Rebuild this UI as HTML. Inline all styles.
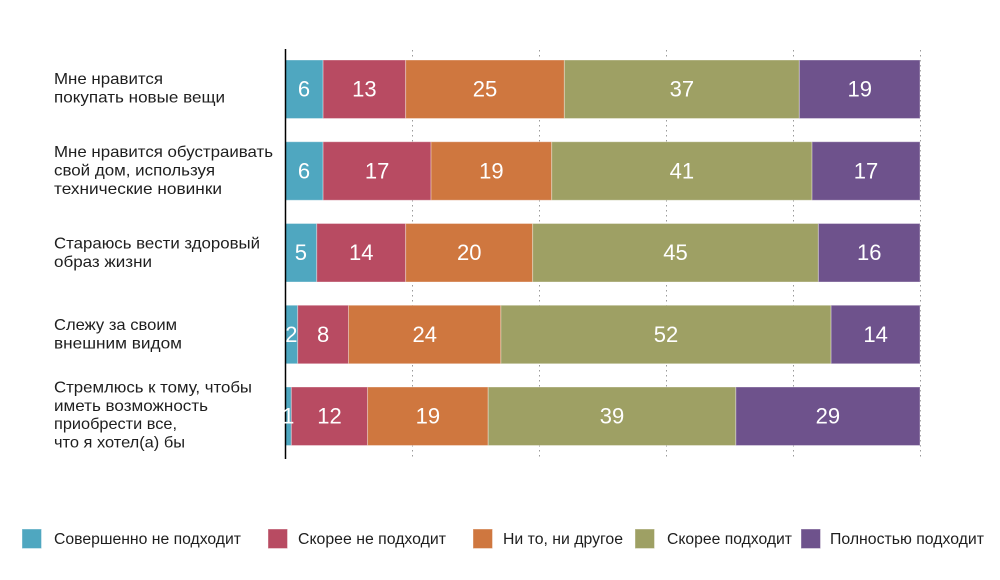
<!DOCTYPE html>
<html>
<head>
<meta charset="utf-8">
<style>
html,body{margin:0;padding:0;background:#fff;}
svg{display:block;}
text{font-family:"Liberation Sans","DejaVu Sans",sans-serif;}
.lbl{font-size:16px;fill:#1e1e1e;}
.leg{font-size:15.5px;fill:#1e1e1e;}
.val{font-size:22px;fill:#fff;text-anchor:middle;}
</style>
</head>
<body>
<svg width="1000" height="580" viewBox="0 0 1000 580" xmlns="http://www.w3.org/2000/svg">
  <rect width="1000" height="580" fill="#fff"/>
  <!-- gridlines -->
  <g stroke="#9a9a9a" stroke-width="1" stroke-dasharray="1.5,3.5">
    <line x1="412.5" y1="50" x2="412.5" y2="460"/>
    <line x1="539.5" y1="50" x2="539.5" y2="460"/>
    <line x1="666.5" y1="50" x2="666.5" y2="460"/>
    <line x1="793.5" y1="50" x2="793.5" y2="460"/>
    <line x1="920.5" y1="50" x2="920.5" y2="460"/>
  </g>

  <!-- Row 1 -->
  <g stroke="#ffffff" stroke-opacity="0.35" stroke-width="1">
    <rect x="285" y="60" width="38.1" height="58.5" fill="#4fa7c0"/>
    <rect x="323.1" y="60" width="82.55" height="58.5" fill="#b84b62"/>
    <rect x="405.65" y="60" width="158.75" height="58.5" fill="#cf773f"/>
    <rect x="564.4" y="60" width="234.95" height="58.5" fill="#9ea064"/>
    <rect x="799.35" y="60" width="120.65" height="58.5" fill="#6e528c"/>
  </g>
  <!-- Row 2 -->
  <g stroke="#ffffff" stroke-opacity="0.35" stroke-width="1">
    <rect x="285" y="141.75" width="38.1" height="58.5" fill="#4fa7c0"/>
    <rect x="323.1" y="141.75" width="107.95" height="58.5" fill="#b84b62"/>
    <rect x="431.05" y="141.75" width="120.65" height="58.5" fill="#cf773f"/>
    <rect x="551.7" y="141.75" width="260.35" height="58.5" fill="#9ea064"/>
    <rect x="812.05" y="141.75" width="107.95" height="58.5" fill="#6e528c"/>
  </g>
  <!-- Row 3 -->
  <g stroke="#ffffff" stroke-opacity="0.35" stroke-width="1">
    <rect x="285" y="223.5" width="31.75" height="58.5" fill="#4fa7c0"/>
    <rect x="316.75" y="223.5" width="88.9" height="58.5" fill="#b84b62"/>
    <rect x="405.65" y="223.5" width="127" height="58.5" fill="#cf773f"/>
    <rect x="532.65" y="223.5" width="285.75" height="58.5" fill="#9ea064"/>
    <rect x="818.4" y="223.5" width="101.6" height="58.5" fill="#6e528c"/>
  </g>
  <!-- Row 4 -->
  <g stroke="#ffffff" stroke-opacity="0.35" stroke-width="1">
    <rect x="285" y="305.25" width="12.7" height="58.5" fill="#4fa7c0"/>
    <rect x="297.7" y="305.25" width="50.8" height="58.5" fill="#b84b62"/>
    <rect x="348.5" y="305.25" width="152.4" height="58.5" fill="#cf773f"/>
    <rect x="500.9" y="305.25" width="330.2" height="58.5" fill="#9ea064"/>
    <rect x="831.1" y="305.25" width="88.9" height="58.5" fill="#6e528c"/>
  </g>
  <!-- Row 5 -->
  <g stroke="#ffffff" stroke-opacity="0.35" stroke-width="1">
    <rect x="285" y="387" width="6.35" height="58.5" fill="#4fa7c0"/>
    <rect x="291.35" y="387" width="76.2" height="58.5" fill="#b84b62"/>
    <rect x="367.55" y="387" width="120.65" height="58.5" fill="#cf773f"/>
    <rect x="488.2" y="387" width="247.65" height="58.5" fill="#9ea064"/>
    <rect x="735.85" y="387" width="184.15" height="58.5" fill="#6e528c"/>
  </g>

  <!-- axis -->
  <line x1="285.5" y1="49" x2="285.5" y2="459" stroke="#000" stroke-width="1.5"/>

  <!-- values -->
  <g class="val">
    <text x="304.05" y="96.7" class="val">6</text>
    <text x="364.4" y="96.7" class="val">13</text>
    <text x="485.0" y="96.7" class="val">25</text>
    <text x="681.9" y="96.7" class="val">37</text>
    <text x="859.7" y="96.7" class="val">19</text>

    <text x="304.05" y="178.5" class="val">6</text>
    <text x="377.1" y="178.5" class="val">17</text>
    <text x="491.4" y="178.5" class="val">19</text>
    <text x="681.9" y="178.5" class="val">41</text>
    <text x="866.0" y="178.5" class="val">17</text>

    <text x="300.9" y="260.2" class="val">5</text>
    <text x="361.2" y="260.2" class="val">14</text>
    <text x="469.2" y="260.2" class="val">20</text>
    <text x="675.5" y="260.2" class="val">45</text>
    <text x="869.2" y="260.2" class="val">16</text>

    <text x="291.35" y="342" class="val">2</text>
    <text x="323.1" y="342" class="val">8</text>
    <text x="424.7" y="342" class="val">24</text>
    <text x="666.0" y="342" class="val">52</text>
    <text x="875.6" y="342" class="val">14</text>

    <text x="288.2" y="423.7" class="val">1</text>
    <text x="329.5" y="423.7" class="val">12</text>
    <text x="427.9" y="423.7" class="val">19</text>
    <text x="612.0" y="423.7" class="val">39</text>
    <text x="827.9" y="423.7" class="val">29</text>
  </g>

  <!-- row labels -->
  <g class="lbl">
    <text x="54" y="84" class="lbl" textLength="109" lengthAdjust="spacingAndGlyphs">Мне нравится</text>
    <text x="54" y="102.5" class="lbl" textLength="171" lengthAdjust="spacingAndGlyphs">покупать новые вещи</text>

    <text x="54" y="157" class="lbl" textLength="219" lengthAdjust="spacingAndGlyphs">Мне нравится обустраивать</text>
    <text x="54" y="175.5" class="lbl" textLength="161" lengthAdjust="spacingAndGlyphs">свой дом, используя</text>
    <text x="54" y="194" class="lbl" textLength="168" lengthAdjust="spacingAndGlyphs">технические новинки</text>

    <text x="54" y="248.5" class="lbl" textLength="206" lengthAdjust="spacingAndGlyphs">Стараюсь вести здоровый</text>
    <text x="54" y="267" class="lbl" textLength="98" lengthAdjust="spacingAndGlyphs">образ жизни</text>

    <text x="54" y="330" class="lbl" textLength="123" lengthAdjust="spacingAndGlyphs">Слежу за своим</text>
    <text x="54" y="348.5" class="lbl" textLength="128" lengthAdjust="spacingAndGlyphs">внешним видом</text>

    <text x="54" y="392.5" class="lbl" textLength="198" lengthAdjust="spacingAndGlyphs">Стремлюсь к тому, чтобы</text>
    <text x="54" y="410.8" class="lbl" textLength="154" lengthAdjust="spacingAndGlyphs">иметь возможность</text>
    <text x="54" y="429.1" class="lbl" textLength="123" lengthAdjust="spacingAndGlyphs">приобрести все,</text>
    <text x="54" y="447.4" class="lbl" textLength="131" lengthAdjust="spacingAndGlyphs">что я хотел(а) бы</text>
  </g>

  <!-- legend -->
  <rect x="22" y="529" width="19.5" height="19.5" fill="#4fa7c0" stroke="#ffffff" stroke-opacity="0.4"/>
  <text x="54" y="544" class="leg" textLength="187" lengthAdjust="spacingAndGlyphs">Совершенно не подходит</text>
  <rect x="268" y="529" width="19.5" height="19.5" fill="#b84b62" stroke="#ffffff" stroke-opacity="0.4"/>
  <text x="298" y="544" class="leg" textLength="148" lengthAdjust="spacingAndGlyphs">Скорее не подходит</text>
  <rect x="473" y="529" width="19.5" height="19.5" fill="#cf773f" stroke="#ffffff" stroke-opacity="0.4"/>
  <text x="503" y="544" class="leg" textLength="120" lengthAdjust="spacingAndGlyphs">Ни то, ни другое</text>
  <rect x="635" y="529" width="19.5" height="19.5" fill="#9ea064" stroke="#ffffff" stroke-opacity="0.4"/>
  <text x="667" y="544" class="leg" textLength="125" lengthAdjust="spacingAndGlyphs">Скорее подходит</text>
  <rect x="801" y="529" width="19.5" height="19.5" fill="#6e528c" stroke="#ffffff" stroke-opacity="0.4"/>
  <text x="830" y="544" class="leg" textLength="154" lengthAdjust="spacingAndGlyphs">Полностью подходит</text>
</svg>
</body>
</html>
